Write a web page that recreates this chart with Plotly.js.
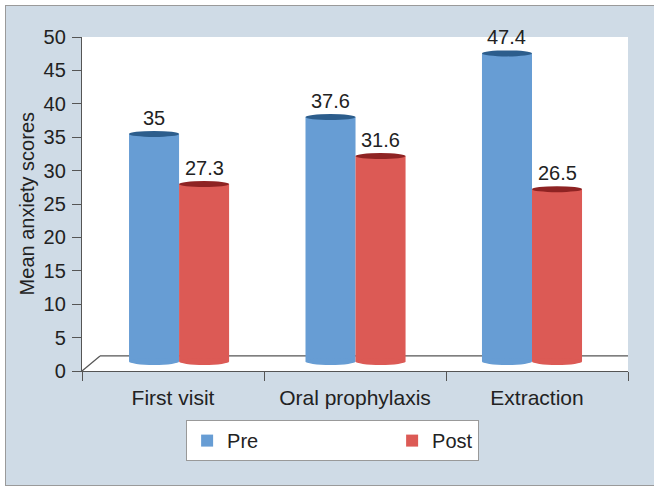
<!DOCTYPE html>
<html><head><meta charset="utf-8">
<script src="https://cdn.plot.ly/plotly-3.0.1.min.js"></script>
<style>
html,body{margin:0;padding:0;background:#fff;width:654px;height:487px;overflow:hidden;}
#frame{position:absolute;left:5px;top:5px;width:680px;height:481px;box-sizing:border-box;background:#cfdbe6;border-top:1px solid #9a9a9a;border-left:1px solid #9a9a9a;border-bottom:1px solid #9a9a9a;}
#chart{position:absolute;left:0;top:0;width:654px;height:487px;}
</style></head>
<body>
<div id="frame"></div>
<div id="chart"></div>
<script>
const categories = ['First visit', 'Oral prophylaxis', 'Extraction'];
const seriesNames = ['Pre', 'Post'];
const preValues = [35, 37.6, 47.4];
const postValues = [27.3, 31.6, 26.5];
const yTickValues = [0, 5, 10, 15, 20, 25, 30, 35, 40, 45, 50];
const yTitle = 'Mean anxiety scores';

const bodyColors = ['#679dd4', '#dc5a55'];
const topColors = ['#2c5d8c', '#8e2323'];
const FONT = 'Liberation Sans, Arial, sans-serif';
const bargap = 0.433;
const halfW = (1 - bargap) / 2;

const series = [preValues, postValues];

const traces = [{
  type: 'scatter', mode: 'markers', x: categories, y: categories.map(() => null),
  xaxis: 'x', yaxis: 'y', showlegend: false, hoverinfo: 'skip'
}];
series.forEach((vals, s) => {
  const t = {
    type: 'bar', name: seriesNames[s], x: categories, y: vals,
    xaxis: 'x2', yaxis: 'y2',
    marker: {color: bodyColors[s], line: {width: 0}},
    hoverinfo: 'skip'
  };
  if (s === 0) t.legendwidth = 160;
  traces.push(t);
});

const shapes = [
  {type: 'rect', xref: 'paper', yref: 'paper', x0: 0, x1: 1, y0: 0, y1: 1, fillcolor: '#ffffff', line: {width: 0}, layer: 'below'},
  {type: 'line', xref: 'paper', yref: 'paper', x0: 0, y0: 0, x1: 0.033, y1: 0.045, line: {color: '#555', width: 1.2}, layer: 'below'},
  {type: 'line', xref: 'paper', yref: 'paper', x0: 0.033, y0: 0.045, x1: 1, y1: 0.045, line: {color: '#555', width: 1.2}, layer: 'below'}
];
const annotations = [];
series.forEach((vals, s) => {
  vals.forEach((v, i) => {
    const x0 = s === 0 ? i - halfW : i;
    const x1 = s === 0 ? i : i + halfW;
    shapes.push({type: 'circle', xref: 'x2', yref: 'y2', x0: x0, x1: x1,
      ysizemode: 'pixel', yanchor: 0, y0: -3.5, y1: 3.5,
      fillcolor: bodyColors[s], line: {width: 0}});
    shapes.push({type: 'circle', xref: 'x2', yref: 'y2', x0: x0, x1: x1,
      ysizemode: 'pixel', yanchor: v, y0: -3, y1: 3,
      fillcolor: topColors[s], line: {width: 0}});
    annotations.push({xref: 'x2', yref: 'y2', x: (x0 + x1) / 2, y: v, text: String(v),
      showarrow: false, yanchor: 'bottom', yshift: 3,
      font: {family: FONT, size: 20, color: '#222'}});
  });
});
annotations.push({xref: 'paper', yref: 'paper', x: -0.1, y: 0.5, text: yTitle, textangle: -90,
  showarrow: false, xanchor: 'center', yanchor: 'middle',
  font: {family: FONT, size: 20, color: '#222'}});

const layout = {
  width: 654, height: 487,
  margin: {l: 82, r: 26, t: 37, b: 116},
  paper_bgcolor: 'rgba(0,0,0,0)',
  plot_bgcolor: 'rgba(0,0,0,0)',
  font: {family: FONT, color: '#222'},
  barmode: 'group', bargap: bargap, bargroupgap: 0,
  showlegend: true,
  legend: {orientation: 'h', x: 0.459, xanchor: 'center', y: -0.147, yanchor: 'top',
    bgcolor: '#ffffff', bordercolor: '#999', borderwidth: 1,
    font: {family: FONT, size: 20, color: '#222'}, traceorder: 'normal'},
  xaxis: {type: 'category', range: [-0.5, 2.5], tickson: 'boundaries', ticks: 'outside', ticklen: 9,
    tickcolor: '#555', showline: true, linecolor: '#555', linewidth: 1.2, showgrid: false, zeroline: false,
    ticklabelstandoff: 8,
    tickfont: {family: FONT, size: 21, color: '#222'}, fixedrange: true},
  yaxis: {range: [0, 50], tickvals: yTickValues, ticks: 'outside', ticklen: 9, tickcolor: '#555',
    showline: true, linecolor: '#555', linewidth: 1.2, showgrid: false, zeroline: false,
    ticklabelstandoff: 2,
    tickfont: {family: FONT, size: 20, color: '#222'}, fixedrange: true},
  xaxis2: {type: 'category', overlaying: 'x', range: [-0.55, 2.544], visible: false, fixedrange: true},
  yaxis2: {overlaying: 'y', range: [-1.46, 49.92], visible: false, fixedrange: true},
  shapes: shapes,
  annotations: annotations
};

Plotly.newPlot('chart', traces, layout, {displayModeBar: false, staticPlot: true});
</script>
</body></html>
